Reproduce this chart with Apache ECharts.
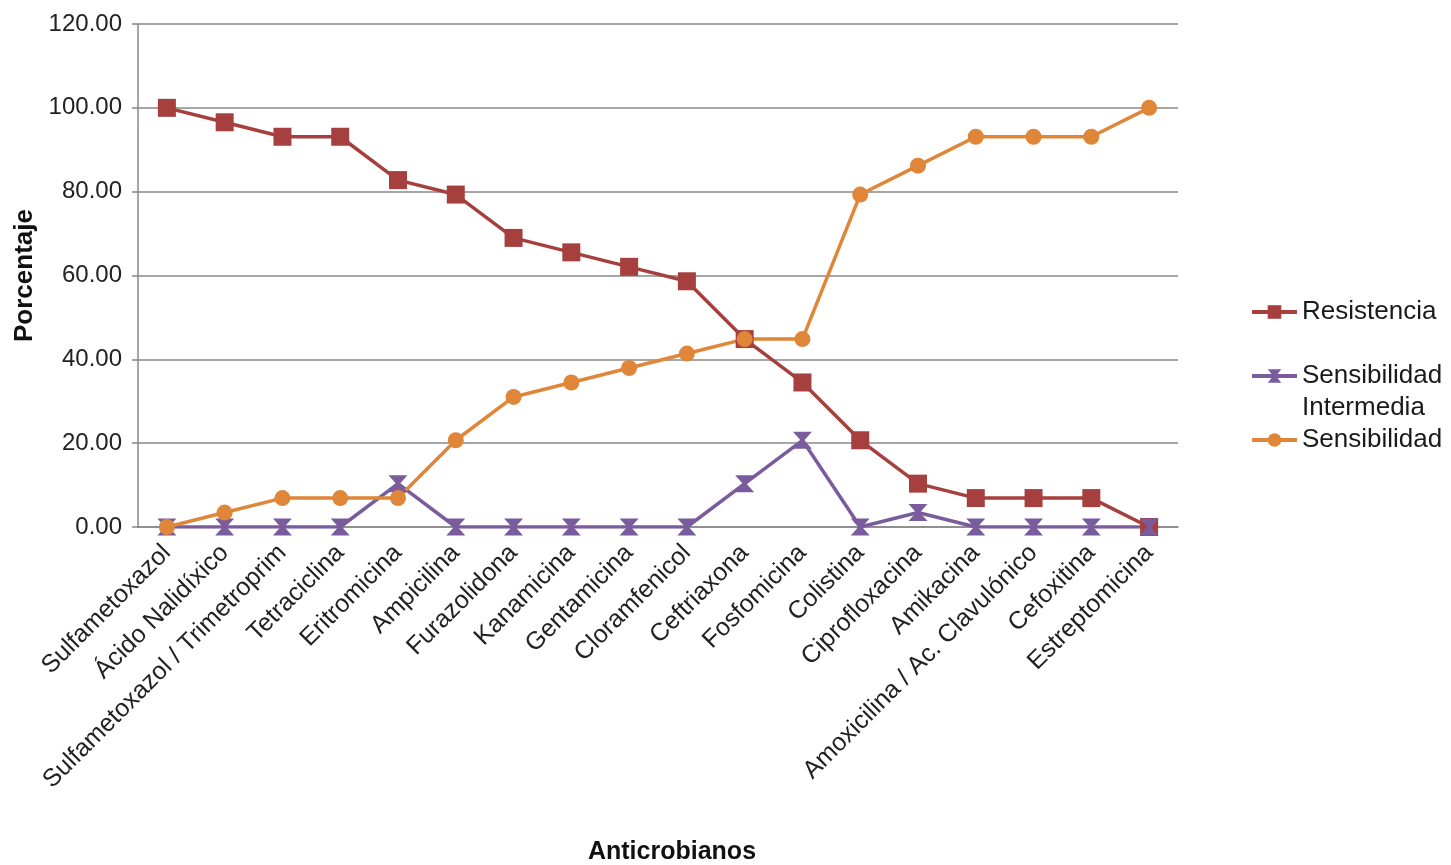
<!DOCTYPE html>
<html>
<head>
<meta charset="utf-8">
<title>Anticrobianos</title>
<script src="https://cdn.jsdelivr.net/npm/echarts@6/dist/echarts.min.js"></script>
<style>
  html, body { margin: 0; padding: 0; background: #fff; }
  #chart { width: 1451px; height: 865px; }
</style>
</head>
<body>
<div id="chart"></div>
<script>
// categories (x axis)
const antimicrobianos = [
  "Sulfametoxazol", "Ácido Nalidíxico", "Sulfametoxazol / Trimetroprim",
  "Tetraciclina", "Eritromicina", "Ampicilina", "Furazolidona", "Kanamicina",
  "Gentamicina", "Cloramfenicol", "Ceftriaxona", "Fosfomicina", "Colistina",
  "Ciprofloxacina", "Amikacina", "Amoxicilina / Ac. Clavulónico", "Cefoxitina",
  "Estreptomicina"
];
// series values (%)
const resistencia = [100.00, 96.55, 93.10, 93.10, 82.76, 79.31, 68.97, 65.52, 62.07,
  58.62, 44.83, 34.48, 20.69, 10.34, 6.90, 6.90, 6.90, 0.00];
const intermedia = [0.00, 0.00, 0.00, 0.00, 10.34, 0.00, 0.00, 0.00, 0.00,
  0.00, 10.34, 20.69, 0.00, 3.45, 0.00, 0.00, 0.00, 0.00];
const sensibilidad = [0.00, 3.45, 6.90, 6.90, 6.90, 20.69, 31.03, 34.48, 37.93,
  41.38, 44.83, 44.83, 79.31, 86.21, 93.10, 93.10, 93.10, 100.00];

const font = "Liberation Sans, Arial, sans-serif";
const hourglass = "path://M0,0 L10,0 L6,5 L10,10 L0,10 L4,5 Z";

const chart = echarts.init(document.getElementById("chart"));
chart.setOption({
  animation: false,
  textStyle: { fontFamily: font },
  grid: { left: 138, right: 273, top: 24, bottom: 338, outerBoundsMode: "none" },
  legend: {
    orient: "vertical",
    left: 1245,
    top: 291,
    itemWidth: 45,
    itemHeight: 17,
    itemGap: 0,
    lineStyle: { width: 4 },
    textStyle: { fontSize: 26, color: "#1a1a1a", lineHeight: 32, fontFamily: font },
    // empty first line keeps the icon level with "Sensibilidad"
    formatter: name => name === "Sensibilidad Intermedia" ? "\nSensibilidad\nIntermedia" : name,
    data: ["Resistencia", "Sensibilidad Intermedia", "Sensibilidad"]
  },
  xAxis: {
    type: "category",
    data: antimicrobianos,
    boundaryGap: true,
    name: "Anticrobianos",
    nameLocation: "middle",
    nameGap: 313,
    nameTextStyle: { fontSize: 25, fontWeight: "bold", color: "#111", padding: [0, 0, 0, 28] },
    axisLine: { lineStyle: { color: "#888", width: 1.5 } },
    axisTick: { show: false },
    axisLabel: { rotate: 45, fontSize: 25, color: "#222", margin: 22, interval: 0 }
  },
  yAxis: {
    type: "value",
    min: 0,
    max: 120,
    interval: 20,
    name: "Porcentaje",
    nameLocation: "middle",
    nameGap: 99,
    nameTextStyle: { fontSize: 26, fontWeight: "bold", color: "#111" },
    axisLine: { show: true, lineStyle: { color: "#888", width: 1.5 } },
    axisTick: { show: true, length: 6, lineStyle: { color: "#888", width: 1.5 } },
    axisLabel: { fontSize: 24, color: "#222", margin: 16, formatter: v => v.toFixed(2) },
    splitLine: { lineStyle: { color: "#888", width: 1.5 } }
  },
  series: [
    {
      name: "Resistencia",
      type: "line",
      data: resistencia,
      symbol: "rect",
      symbolSize: 18,
      itemStyle: { color: "#A5403E" },
      lineStyle: { color: "#A5403E", width: 3.5 }
    },
    {
      name: "Sensibilidad Intermedia",
      type: "line",
      data: intermedia,
      symbol: hourglass,
      symbolSize: [19, 17],
      itemStyle: { color: "#7A5C9D" },
      lineStyle: { color: "#7A5C9D", width: 3.5 }
    },
    {
      name: "Sensibilidad",
      type: "line",
      data: sensibilidad,
      symbol: "circle",
      symbolSize: 16,
      itemStyle: { color: "#DF8639" },
      lineStyle: { color: "#DF8639", width: 3.5 }
    }
  ]
});
</script>
</body>
</html>
